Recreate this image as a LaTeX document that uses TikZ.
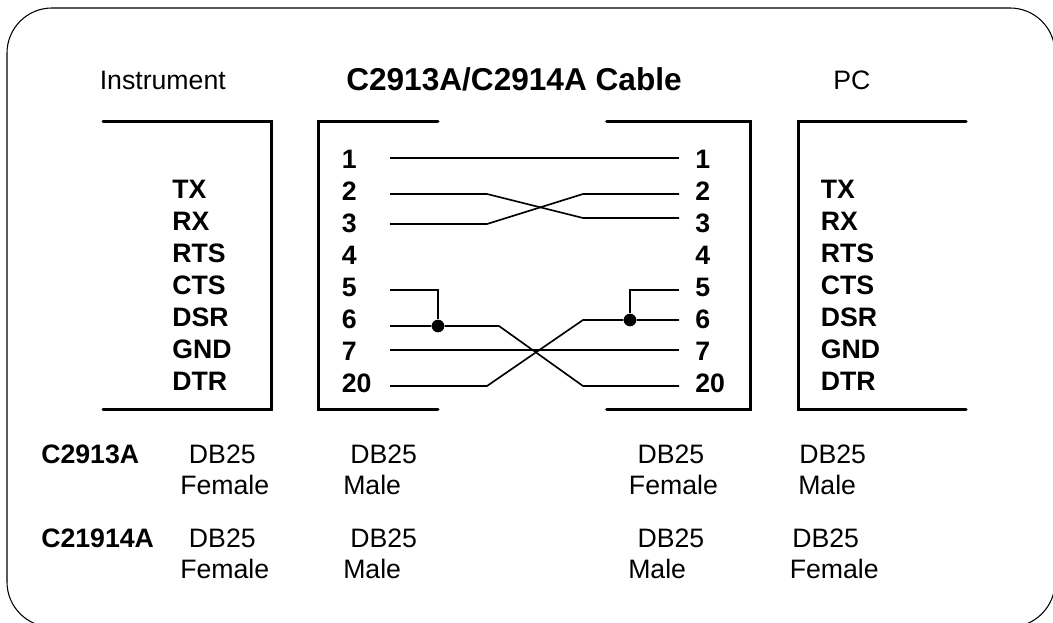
\documentclass[tikz,border=0pt]{standalone}
\usepackage{fontspec}
\setmainfont{Liberation Sans}
\tikzset{
    etiqueta/.style={anchor=base west,inner sep=0pt,font=\fontsize{20pt}{22pt}\selectfont},
    pin/.style={anchor=base west,inner sep=0pt,font=\fontsize{20pt}{22pt}\selectfont\bfseries},
    conector/.style={line width=2.25pt,line cap=round},
    cable/.style={line width=1.25pt},
    union/.style={circle,fill=black,inner sep=0pt,minimum size=9.5pt}
}
\begin{document}
\begin{tikzpicture}[x=0.75pt,y=-0.75pt]
    \useasboundingbox (0,0) rectangle (1053,623);
    \clip (0,0) rectangle (1053,623);

    % Marco
    \draw[line width=0.8pt,rounded corners=33.75pt] (7,8) rectangle (1055,627);

    % Titulos
    \node[etiqueta] (instrument) at (99.5,90) {Instrument};
    \node[pin,font=\fontsize{23.7pt}{26pt}\selectfont\bfseries] (title) at (346,91) {C2913A/C2914A Cable};
    \node[etiqueta] (pc) at (833,90) {PC};

    % Conectores
    \draw[conector] (103,122) -- (271,122) -- (271,410) -- (103,410);
    \draw[conector] (438,122) -- (318,122) -- (318,410) -- (438,410);
    \draw[conector] (606.5,122) -- (750,122) -- (750,410) -- (606.5,410);
    \draw[conector] (966,122) -- (798,122) -- (798,410) -- (966,410);

    % Pines
    \foreach \num/\ypin in {1/169,2/201,3/233,4/265,5/297,6/329,7/361,20/393} {
        \node[pin] (izq\num) at (341.5,\ypin) {\num};
        \node[pin] (der\num) at (695,\ypin) {\num};
    }

    % Senales
    \foreach \sig/\ypin in {TX/199,RX/231,RTS/263,CTS/295,DSR/327,GND/359,DTR/391} {
        \node[pin] (inst\sig) at (172,\ypin) {\sig};
        \node[pin] (pc\sig) at (820.5,\ypin) {\sig};
    }

    % Extremos de los cables
    \foreach \num/\ya/\yb in {1/158/158,2/194/194,3/224/218,5/290/290,6/326/320,7/350/350,20/386/386} {
        \coordinate (a\num) at (390,\ya);
        \coordinate (b\num) at (679,\yb);
    }
    \node[union] (puntoa) at (438,326) {};
    \node[union] (puntob) at (630,320) {};

    % Cables
    \draw[cable] (a1) -- (b1);
    \draw[cable] (a2) -- (487,194) -- (583,218) -- (b3);
    \draw[cable] (a3) -- (487,224) -- (583,194) -- (b2);
    \draw[cable] (a5) -- (438,290) -- (puntoa);
    \draw[cable] (a6) -- (puntoa) -- (499,326) -- (583,386) -- (b20);
    \draw[cable] (a7) -- (b7);
    \draw[cable] (a20) -- (487,386) -- (583,320) -- (puntob) -- (b6);
    \draw[cable] (b5) -- (630,290) -- (puntob);

    % C2913A
    \node[pin] (cablea) at (41,463) {C2913A};
    \node[etiqueta] (a1db) at (188.7,463) {DB25};
    \node[etiqueta] (a1g) at (180,494) {Female};
    \node[etiqueta] (a2db) at (350,463) {DB25};
    \node[etiqueta] (a2g) at (343,494) {Male};
    \node[etiqueta] (a3db) at (637.3,463) {DB25};
    \node[etiqueta] (a3g) at (628.7,494) {Female};
    \node[etiqueta] (a4db) at (799,463) {DB25};
    \node[etiqueta] (a4g) at (798,494) {Male};

    % C21914A
    \node[pin] (cableb) at (41,547) {C21914A};
    \node[etiqueta] (b1db) at (188.7,547) {DB25};
    \node[etiqueta] (b1g) at (180,578) {Female};
    \node[etiqueta] (b2db) at (350,547) {DB25};
    \node[etiqueta] (b2g) at (343,578) {Male};
    \node[etiqueta] (b3db) at (637.3,547) {DB25};
    \node[etiqueta] (b3g) at (628,578) {Male};
    \node[etiqueta] (b4db) at (792,547) {DB25};
    \node[etiqueta] (b4g) at (789.5,578) {Female};
\end{tikzpicture}
\end{document}
